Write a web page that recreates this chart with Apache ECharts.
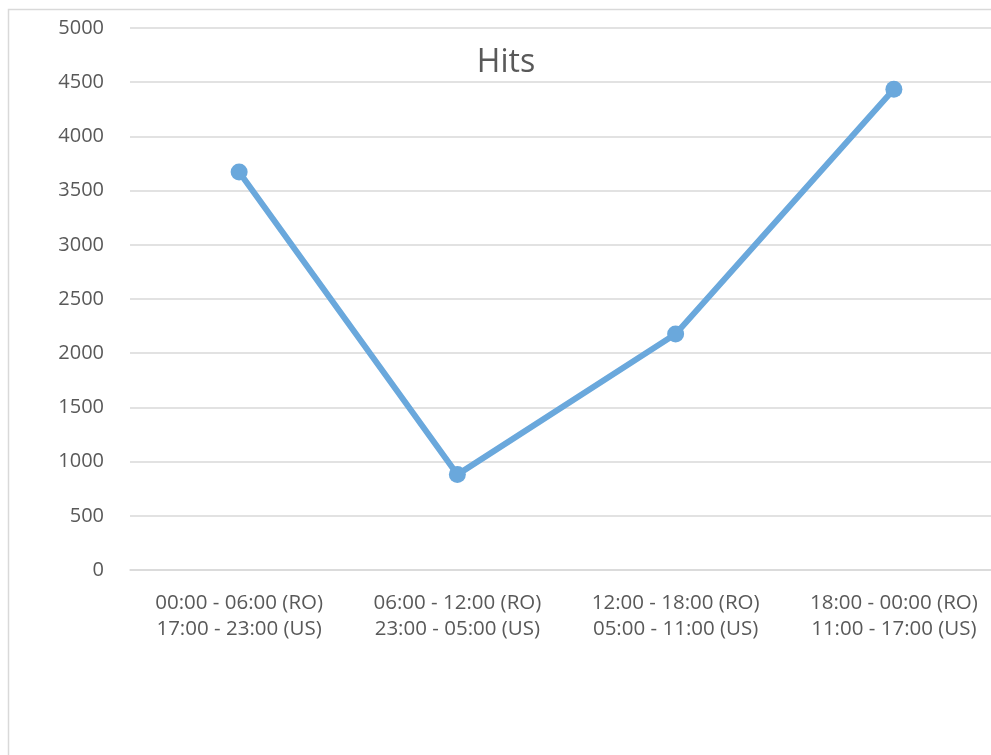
<!DOCTYPE html>
<html>
<head>
<meta charset="utf-8">
<script src="https://cdn.jsdelivr.net/npm/echarts@6/dist/echarts.min.js"></script>
<style>
  html, body { margin: 0; padding: 0; background: #fff; }
  #chart { width: 991px; height: 755px; }
</style>
</head>
<body>
<div id="chart"></div>
<script>
// time slots (RO / US)
const categories = [
  '00:00 - 06:00 (RO)\n17:00 - 23:00 (US)',
  '06:00 - 12:00 (RO)\n23:00 - 05:00 (US)',
  '12:00 - 18:00 (RO)\n05:00 - 11:00 (US)',
  '18:00 - 00:00 (RO)\n11:00 - 17:00 (US)'
]
const hits = [3672, 880, 2177, 4435]
const yTicks = { min: 0, max: 5000, interval: 500 }

const textColor = '#595959'
const gridColor = '#d9d9d9'
const lineColor = '#6aa8dc'

const chart = echarts.init(document.getElementById('chart'))

chart.setOption({
  animation: false,
  textStyle: { fontFamily: 'Open Sans' },
  title: {
    text: 'Hits',
    left: 501,
    top: 42,
    textAlign: 'center',
    textStyle: {
      fontFamily: 'Open Sans',
      fontSize: 32,
      fontWeight: 'normal',
      color: textColor
    }
  },
  graphic: [{
    type: 'rect',
    shape: { x: 8.5, y: 9.5, width: 1200, height: 1000 },
    style: { fill: 'none', stroke: gridColor, lineWidth: 1.5 },
    silent: true
  }],
  // plot area runs past the right edge (chart is cropped there)
  grid: {
    left: 130,
    top: 28,
    right: -12,
    bottom: 185,
    containLabel: false,
    outerBoundsMode: 'none'
  },
  xAxis: {
    type: 'category',
    data: categories,
    axisLine: { lineStyle: { color: gridColor, width: 1.5 } },
    axisTick: { show: false },
    axisLabel: {
      interval: 0,
      color: textColor,
      fontSize: 20.5,
      lineHeight: 26,
      margin: 20
    }
  },
  yAxis: {
    type: 'value',
    min: yTicks.min,
    max: yTicks.max,
    interval: yTicks.interval,
    axisLine: { show: false },
    axisTick: { show: false },
    axisLabel: {
      color: textColor,
      fontSize: 20,
      margin: 26,
      formatter: v => String(v)
    },
    splitLine: { lineStyle: { color: gridColor, width: 1.5 } }
  },
  series: [{
    name: 'Hits',
    type: 'line',
    data: hits,
    symbol: 'circle',
    symbolSize: 17,
    lineStyle: { width: 6, color: lineColor },
    itemStyle: { color: lineColor }
  }]
})
</script>
</body>
</html>
